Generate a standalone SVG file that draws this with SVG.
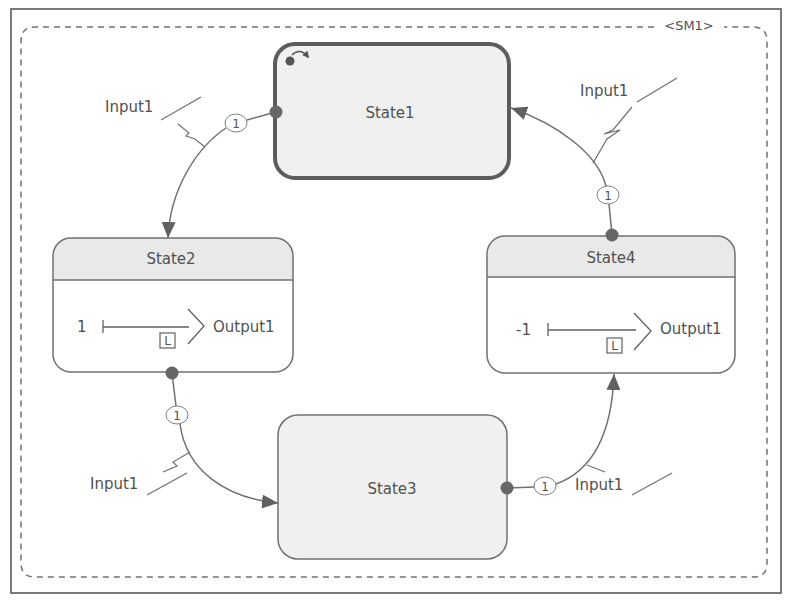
<svg xmlns="http://www.w3.org/2000/svg" width="788" height="604" viewBox="0 0 788 604">
<style>
text{font-family:"DejaVu Sans","Liberation Sans",sans-serif;fill:#505050;}
.lbl{font-size:15px;}
.num{font-size:12px;text-anchor:middle;}
.st{font-size:15px;text-anchor:middle;}
.box{fill:#f0f0f0;stroke:#707070;stroke-width:1.5;}
.hdr{fill:#e9e9e9;stroke:none;}
.tr{fill:none;stroke:#707070;stroke-width:1.5;}
.thin{fill:none;stroke:#707070;stroke-width:1.2;}
.dot{fill:#666666;}
.oval{fill:#ffffff;stroke:#808080;stroke-width:1;}
</style>
<defs>
<marker id="ah" viewBox="0 0 16 14" refX="16" refY="7" markerWidth="16" markerHeight="14" markerUnits="userSpaceOnUse" orient="auto">
<path d="M0,0 L16,7 L0,14 z" fill="#606060"/>
</marker>
<marker id="sa" viewBox="0 0 8 8" refX="6" refY="4" markerWidth="7" markerHeight="7" markerUnits="userSpaceOnUse" orient="auto">
<path d="M0,0 L8,4 L0,8 z" fill="#555"/>
</marker>
</defs>
<rect x="0" y="0" width="788" height="604" fill="#ffffff"/>
<rect x="11" y="9" width="770" height="584" fill="none" stroke="#7a7a7a" stroke-width="2"/>
<path d="M654,27 L35,27 Q21,27 21,41 L21,563 Q21,577 35,577 L753,577 Q767,577 767,563 L767,41 Q767,27 753,27 L724,27" fill="none" stroke="#707070" stroke-width="1.5" stroke-dasharray="6,5"/>
<text x="689" y="30" class="lbl" style="font-size:13px" text-anchor="middle">&lt;SM1&gt;</text>

<g id="State1">
<rect x="275" y="44" width="234" height="134" rx="20" fill="#f0f0f0" stroke="#5c5c5c" stroke-width="4"/>
<text x="390" y="118" class="st">State1</text>
<circle cx="290" cy="61" r="4.5" fill="#555"/>
<path d="M292,55 Q300,47 308,57" fill="none" stroke="#555" stroke-width="1.5" marker-end="url(#sa)"/>
</g>

<g id="State2">
<path d="M71,238 L275,238 Q293,238 293,256 L293,280 L53,280 L53,256 Q53,238 71,238 z" class="hdr"/>
<rect x="53" y="238" width="240" height="134" rx="18" fill="none" stroke="#707070" stroke-width="1.5"/>
<line x1="53" y1="280" x2="293" y2="280" stroke="#707070" stroke-width="1.5"/>
<text x="171" y="264" class="st">State2</text>
<text x="77" y="332" class="lbl">1</text>
<line x1="103" y1="320" x2="103" y2="333" stroke="#606060" stroke-width="1.3"/>
<line x1="103" y1="327" x2="189" y2="327" stroke="#606060" stroke-width="1.3"/>
<polyline points="188,309 204,326 188,344" fill="none" stroke="#606060" stroke-width="1.3"/>
<rect x="160" y="333" width="15" height="15" fill="#fff" stroke="#606060" stroke-width="1.2"/>
<text x="167.5" y="345" style="font-size:12px" text-anchor="middle">L</text>
<text x="213" y="332" class="lbl">Output1</text>
</g>

<g id="State3">
<rect x="278" y="415" width="229" height="144" rx="20" class="box"/>
<text x="392" y="494" class="st">State3</text>
</g>

<g id="State4">
<path d="M505,236 L717,236 Q735,236 735,254 L735,277 L487,277 L487,254 Q487,236 505,236 z" class="hdr"/>
<rect x="487" y="236" width="248" height="137" rx="18" fill="none" stroke="#707070" stroke-width="1.5"/>
<line x1="487" y1="277" x2="735" y2="277" stroke="#707070" stroke-width="1.5"/>
<text x="611" y="263" class="st">State4</text>
<text x="516" y="335" class="lbl">-1</text>
<line x1="548" y1="323" x2="548" y2="336" stroke="#606060" stroke-width="1.3"/>
<line x1="548" y1="330" x2="636" y2="330" stroke="#606060" stroke-width="1.3"/>
<polyline points="634,313 651,331 634,350" fill="none" stroke="#606060" stroke-width="1.3"/>
<rect x="607" y="338" width="15" height="15" fill="#fff" stroke="#606060" stroke-width="1.2"/>
<text x="614.5" y="350" style="font-size:12px" text-anchor="middle">L</text>
<text x="660" y="334" class="lbl">Output1</text>
</g>

<g id="connectors">
<!-- State1 -> State2 -->
<line x1="276" y1="112" x2="247" y2="120" class="tr"/>
<path d="M226,128 C196,148 170,190 168,238" class="tr" marker-end="url(#ah)"/>
<ellipse cx="236" cy="123" rx="11" ry="9" class="oval"/>
<text x="236" y="127.5" class="num">1</text>
<circle cx="276" cy="112" r="6.5" class="dot"/>
<text x="105" y="112" class="lbl">Input1</text>
<line x1="161" y1="120" x2="201" y2="97" class="thin"/>
<polyline points="178,124 189,133 186,136 195,139 205,147" class="thin"/>

<!-- State2 -> State3 -->
<line x1="172" y1="373" x2="176" y2="406" class="tr"/>
<path d="M180,424 C186,470 225,498 278,503" class="tr" marker-end="url(#ah)"/>
<ellipse cx="177" cy="415" rx="11" ry="9" class="oval"/>
<text x="177" y="419.5" class="num">1</text>
<circle cx="172" cy="373" r="6.5" class="dot"/>
<text x="90" y="489" class="lbl">Input1</text>
<line x1="147" y1="495" x2="187" y2="473" class="thin"/>
<polyline points="163,472 177,466 173,462 190,452" class="thin"/>

<!-- State3 -> State4 -->
<line x1="507" y1="488" x2="534" y2="487" class="tr"/>
<path d="M556,484 C595,470 612,430 614,374" class="tr" marker-end="url(#ah)"/>
<ellipse cx="545" cy="486" rx="11" ry="9" class="oval"/>
<text x="545" y="490.5" class="num">1</text>
<circle cx="507" cy="488" r="6.5" class="dot"/>
<text x="575" y="490" class="lbl">Input1</text>
<line x1="632" y1="495" x2="672" y2="473" class="thin"/>
<line x1="587" y1="465" x2="605" y2="472" class="thin"/>

<!-- State4 -> State1 -->
<line x1="612" y1="235" x2="609" y2="204" class="tr"/>
<path d="M606,186 C598,155 560,125 511,108" class="tr" marker-end="url(#ah)"/>
<ellipse cx="608" cy="195" rx="11" ry="9" class="oval"/>
<text x="608" y="199.5" class="num">1</text>
<circle cx="612" cy="235" r="6.5" class="dot"/>
<text x="580" y="96" class="lbl">Input1</text>
<line x1="637" y1="102" x2="677" y2="78" class="thin"/>
<polyline points="632,107 613,130 604,134 620,130 607,139 593,163" class="thin"/>
</g>
</svg>
